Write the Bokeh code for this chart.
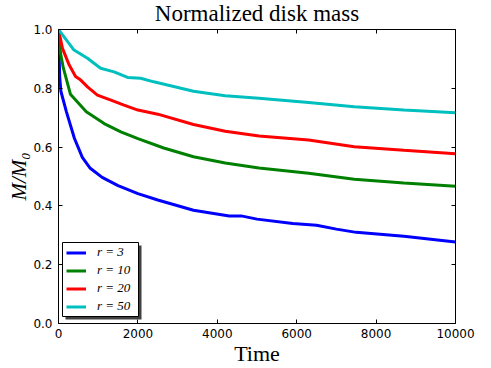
from bokeh.plotting import figure
from bokeh.models import (LinearAxis, Legend, LegendItem, BoxAnnotation,
                          FixedTicker, Range1d, CustomLabelingPolicy)
from bokeh.embed import file_html
from bokeh.resources import INLINE

# ---- data ----
t_r3 = [0, 30, 60, 200, 400, 600, 800, 1100, 1500, 2000, 2500, 3400, 4300,
        4600, 5000, 5900, 6500, 7000, 7500, 8700, 10000]
m_r3 = [1.0, 0.84, 0.79, 0.72, 0.63, 0.565, 0.528, 0.497, 0.469, 0.442, 0.420,
        0.385, 0.366, 0.366, 0.355, 0.340, 0.334, 0.321, 0.310, 0.297, 0.277]

t_r10 = [0, 50, 120, 300, 700, 1150, 1570, 2000, 2650, 3400, 4200, 5050, 6300,
         7450, 8700, 10000]
m_r10 = [1.0, 0.92, 0.87, 0.78, 0.72, 0.68, 0.652, 0.629, 0.597, 0.567, 0.546,
         0.529, 0.511, 0.491, 0.478, 0.467]

t_r20 = [0, 100, 270, 430, 560, 730, 980, 1320, 1650, 2000, 2500, 3400, 4200,
         5050, 6300, 7450, 8700, 10000]
m_r20 = [1.0, 0.936, 0.879, 0.840, 0.828, 0.805, 0.777, 0.760, 0.743, 0.726,
         0.712, 0.677, 0.654, 0.638, 0.624, 0.601, 0.589, 0.577]

t_r50 = [0, 390, 730, 1060, 1400, 1740, 2070, 2400, 3400, 4200, 5050, 6300,
         7450, 8700, 10000]
m_r50 = [1.0, 0.93, 0.902, 0.868, 0.856, 0.837, 0.834, 0.822, 0.790, 0.775,
         0.766, 0.752, 0.737, 0.726, 0.717]

labels = ["r = 3", "r = 10", "r = 20", "r = 50"]
colors = ["#0000ff", "#008000", "#ff0000", "#00bfbf"]
x_ticks = [0, 2000, 4000, 6000, 8000, 10000]
y_ticks = [0.0, 0.2, 0.4, 0.6, 0.8, 1.0]

SERIF = "Liberation Serif"
SANS = "DejaVu Sans"

p = figure(frame_width=397, frame_height=294, output_backend="svg",
           toolbar_location=None, x_range=Range1d(0, 10000),
           y_range=Range1d(0, 1.0), min_border_left=10, min_border_right=22,
           min_border_top=5, min_border_bottom=5, background_fill_color="white",
           border_fill_color="white", margin=(-2, 0, 0, 4))

p.title.text = "Normalized disk mass"
p.title.text_font = SERIF
p.title.text_font_size = "23px"
p.title.text_font_style = "normal"
p.title.text_color = "black"
p.title.align = "center"
p.title.standoff = 0
p.title.text_line_height = 0.75

p.outline_line_color = "black"
p.outline_line_width = 1
p.grid.visible = False

hide_labels = CustomLabelingPolicy(
    code="const n = indices.size; for (let i = 0; i < n; i++) indices.unset(i); return indices")

def style_axis(ax, show_labels):
    ax.major_tick_in = 4
    ax.major_tick_out = 0
    ax.minor_tick_line_color = None
    ax.major_tick_line_color = "black"
    ax.axis_line_color = "black"
    ax.major_label_text_font = SANS
    ax.major_label_text_font_size = "12px" if show_labels else "1px"
    ax.major_label_text_color = "black"
    if not show_labels:
        ax.major_label_standoff = 0
        ax.axis_line_color = None
        ax.major_label_policy = hide_labels

style_axis(p.xaxis[0], True)
style_axis(p.yaxis[0], True)
p.xaxis[0].ticker = FixedTicker(ticks=x_ticks)
p.yaxis[0].ticker = FixedTicker(ticks=y_ticks)
p.xaxis[0].major_label_standoff = 5
p.yaxis[0].major_label_standoff = 6
p.yaxis[0].major_label_overrides = {v: f"{v:.1f}" for v in y_ticks}

p.xaxis[0].axis_label = "Time"
p.yaxis[0].axis_label = "M/M\u2080"
for ax in (p.xaxis[0], p.yaxis[0]):
    ax.axis_label_text_font = SERIF
    ax.axis_label_text_color = "black"
p.xaxis[0].axis_label_text_font_size = "22px"
p.yaxis[0].axis_label_text_font_size = "21px"
p.xaxis[0].axis_label_text_font_style = "normal"
p.yaxis[0].axis_label_text_font_style = "italic"
p.xaxis[0].axis_label_standoff = 0
p.yaxis[0].axis_label_standoff = -1

top = LinearAxis(ticker=FixedTicker(ticks=x_ticks))
style_axis(top, False)
p.add_layout(top, "above")
right = LinearAxis(ticker=FixedTicker(ticks=y_ticks))
style_axis(right, False)
p.add_layout(right, "right")

# legend frame and shadow (screen px from frame's bottom-left)
BL, BR, BB, BT = 4, 80, 7, 81
shadow = BoxAnnotation(left=BL + 3, right=BR + 3, bottom=BB - 3, top=BT - 3,
                       left_units="screen", right_units="screen",
                       bottom_units="screen", top_units="screen",
                       fill_color="#404040", fill_alpha=1.0, line_color=None)
p.add_layout(shadow)
box = BoxAnnotation(left=BL, right=BR, bottom=BB, top=BT,
                    left_units="screen", right_units="screen",
                    bottom_units="screen", top_units="screen",
                    fill_color="white", fill_alpha=1.0, line_color="black",
                    line_width=1, line_alpha=1.0)
p.add_layout(box)

series = [(t_r3, m_r3), (t_r10, m_r10), (t_r20, m_r20), (t_r50, m_r50)]
items = []
for (t, m), lab, col in zip(series, labels, colors):
    r = p.line(t, m, line_color=col, line_width=3)
    items.append(LegendItem(label=lab, renderers=[r]))

legend = Legend(items=items, location=(8, 9), padding=4, spacing=2,
                glyph_width=20, glyph_height=15, label_height=15,
                label_standoff=11, label_text_font=SERIF,
                label_text_font_style="italic", label_text_font_size="13px",
                label_text_color="black",
                border_line_color=None, background_fill_alpha=0.0,
                margin=0)
p.add_layout(legend, "center")

open("out.html", "w").write(file_html(p, INLINE))
